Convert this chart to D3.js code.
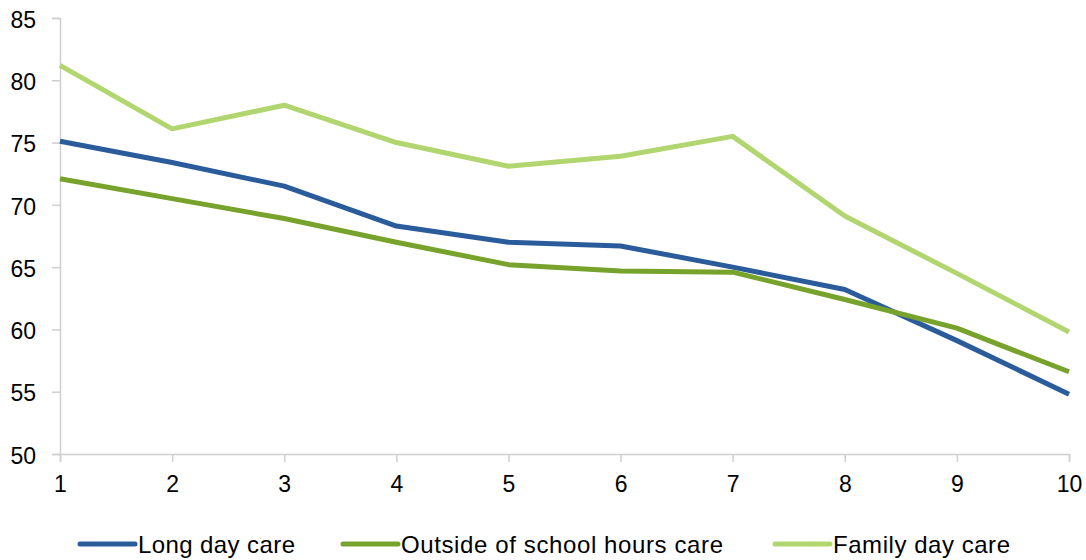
<!DOCTYPE html>
<html>
<head>
<meta charset="utf-8">
<script src="https://cdn.jsdelivr.net/npm/d3@7"></script>
<style>
body { margin: 0; background: #fff; }
text { font-family: "Liberation Sans", Arial, sans-serif; fill: #000; }
</style>
</head>
<body>
<div id="chart"></div>
<script>
var years = [1, 2, 3, 4, 5, 6, 7, 8, 9, 10];
var longDay = [75.1, 73.4, 71.5, 68.3, 67.0, 66.7, 65.0, 63.2, 59.1, 54.8];
var outsideSchool = [72.1, 70.5, 68.9, 67.0, 65.2, 64.7, 64.6, 62.4, 60.1, 56.6];
var familyDay = [81.2, 76.1, 78.0, 75.0, 73.1, 73.9, 75.5, 69.1, 64.5, 59.8];
var yTicks = [50, 55, 60, 65, 70, 75, 80, 85];
var names = ["Long day care", "Outside of school hours care", "Family day care"];
var colors = ["#2a5b9b", "#77a22b", "#b1d66f"];

// legend layout (px)
var legendX = [80, 343, 775];
var legendTextLen = [157, 322, 177];

var series = [longDay, outsideSchool, familyDay].map(function(v, i) {
  return {name: names[i], values: v, color: colors[i], lx: legendX[i], tl: legendTextLen[i]};
});

var W = 1086, H = 560;
var margin = {top: 18, right: 17, bottom: 106, left: 60};
var width = W - margin.left - margin.right;
var height = H - margin.top - margin.bottom;

var svg = d3.select("#chart").append("svg")
  .attr("width", W)
  .attr("height", H);

var g = svg.append("g")
  .attr("transform", "translate(" + margin.left + "," + margin.top + ")");

var x = d3.scaleLinear().domain([1, 10]).range([0, width]);
var y = d3.scaleLinear().domain([50, 85]).range([height, 0]);

// y axis
var yAxis = g.append("g")
  .call(d3.axisLeft(y).tickValues(yTicks).tickSize(8).tickPadding(16));
yAxis.select(".domain").attr("stroke", "#cfcfcf").attr("stroke-width", 1.5);
yAxis.selectAll(".tick line").attr("stroke", "#cfcfcf").attr("stroke-width", 1.5);
yAxis.selectAll("text").style("font-size", "23px").attr("dy", "0.4em");

// x axis
var xAxis = g.append("g")
  .attr("transform", "translate(0," + height + ")")
  .call(d3.axisBottom(x).tickValues(years).tickFormat(d3.format("d")).tickSize(8).tickPadding(14));
xAxis.select(".domain").attr("stroke", "#cfcfcf").attr("stroke-width", 1.5);
xAxis.selectAll(".tick line").attr("stroke", "#cfcfcf").attr("stroke-width", 1.5);
xAxis.selectAll("text").style("font-size", "23px");

var line = d3.line()
  .x(function(d, i) { return x(years[i]); })
  .y(function(d) { return y(d); });

g.selectAll(".series")
  .data(series)
  .enter()
  .append("path")
  .attr("class", "series")
  .attr("d", function(d) { return line(d.values); })
  .attr("fill", "none")
  .attr("stroke", function(d) { return d.color; })
  .attr("stroke-width", 5)
  .attr("stroke-linejoin", "round");

// legend
var legend = svg.append("g");
var items = legend.selectAll("g")
  .data(series)
  .enter()
  .append("g")
  .attr("transform", function(d) { return "translate(" + d.lx + ",544)"; });

items.append("line")
  .attr("x1", 0).attr("x2", 55)
  .attr("stroke", function(d) { return d.color; })
  .attr("stroke-width", 5)
  .attr("stroke-linecap", "round");

items.append("text")
  .attr("x", 58)
  .attr("dy", "0.36em")
  .attr("textLength", function(d) { return d.tl; })
  .attr("lengthAdjust", "spacing")
  .style("font-size", "24px")
  .text(function(d) { return d.name; });
</script>
</body>
</html>
